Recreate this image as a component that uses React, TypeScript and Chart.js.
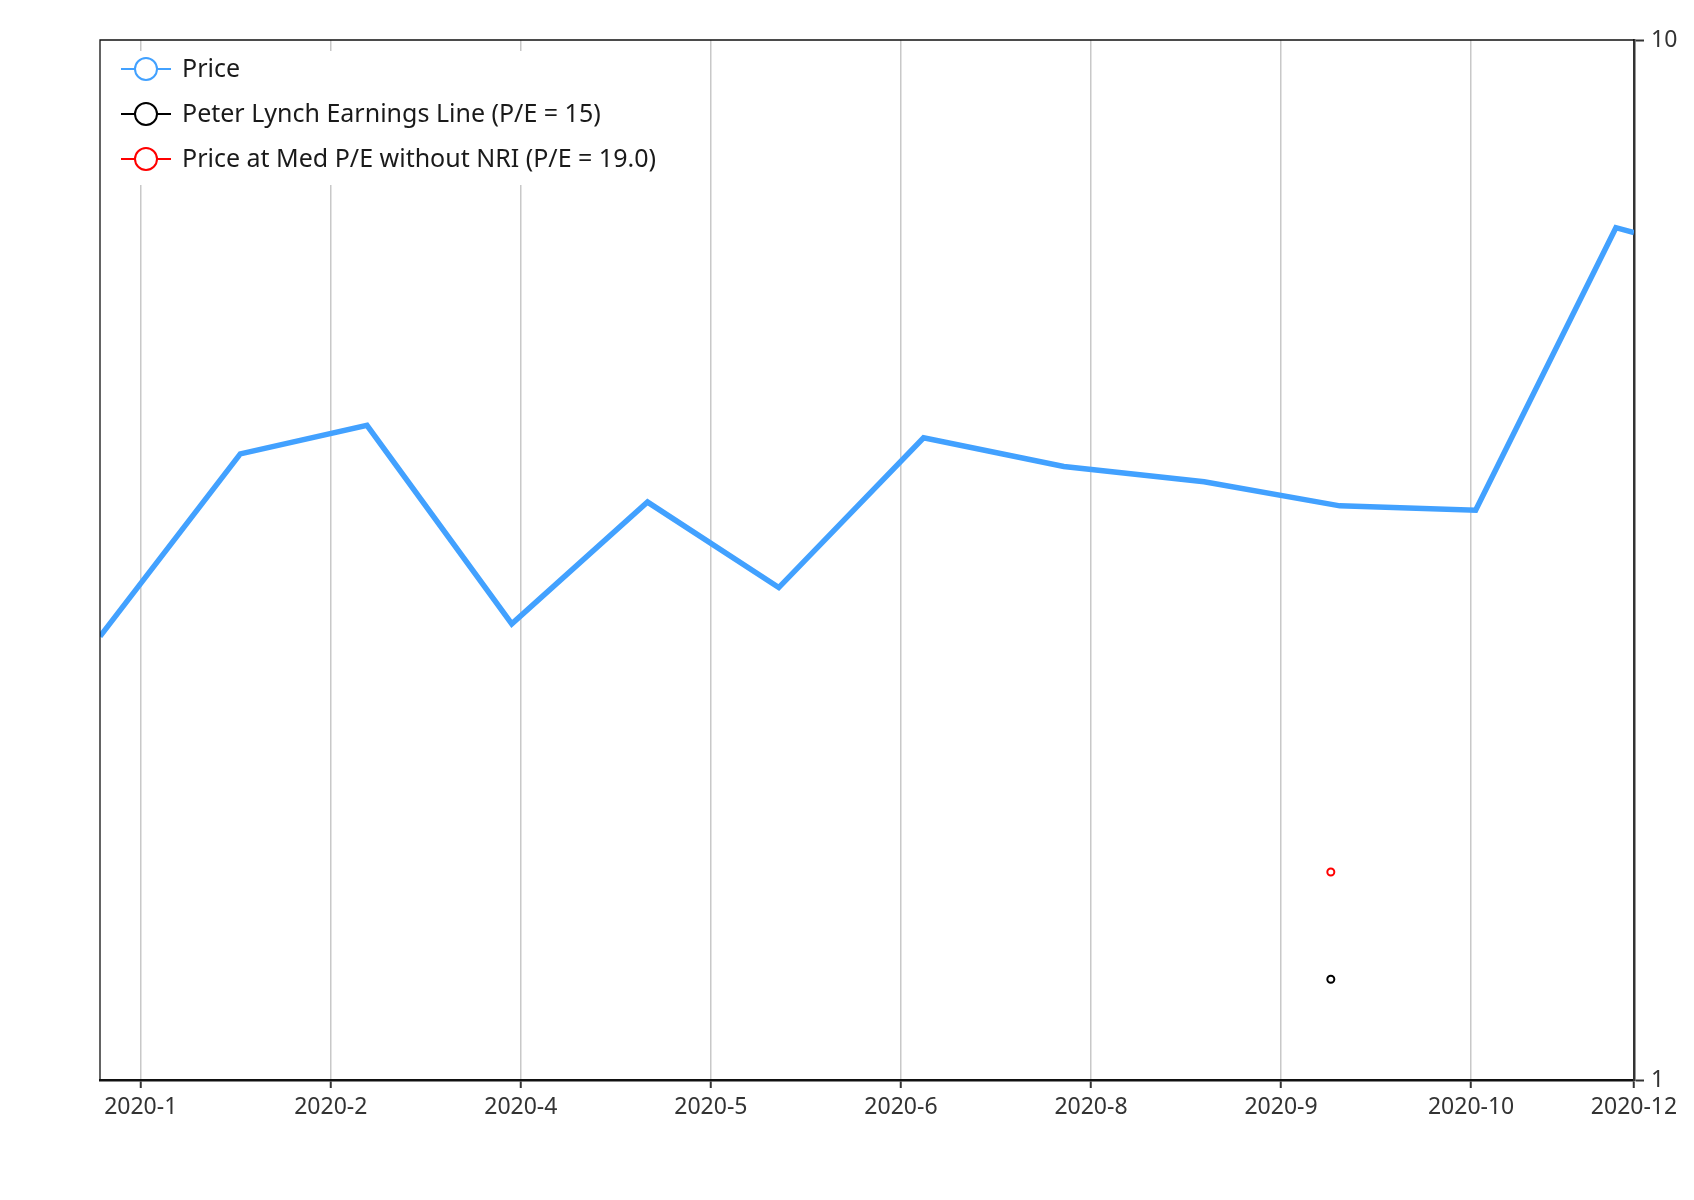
import { useEffect, useRef } from "react"
import { Chart, registerables, type ChartConfiguration } from "chart.js"

Chart.register(...registerables)

const priceDates = [
  "2019-12-31", "2020-01-31", "2020-02-28", "2020-03-31", "2020-04-30", "2020-05-29", "2020-06-30",
  "2020-07-31", "2020-08-31", "2020-09-30", "2020-10-30", "2020-11-30", "2020-12-04",
]
const priceValues = [2.67, 4.0, 4.26, 2.745, 3.595, 2.975, 4.145, 3.89, 3.76, 3.565, 3.53, 6.6, 6.53]

const valuationDates = ["2020-09-28"]
const lynchValues = [1.25]
const medPeValues = [1.585]

const tickDates = [
  "2020-01-09", "2020-02-20", "2020-04-02", "2020-05-14", "2020-06-25",
  "2020-08-06", "2020-09-17", "2020-10-29", "2020-12-04",
]
const tickLabels = ["2020-1", "2020-2", "2020-4", "2020-5", "2020-6", "2020-8", "2020-9", "2020-10", "2020-12"]
const yTicks = [1, 10]

const seriesLabels = ["Price", "Peter Lynch Earnings Line (P/E = 15)", "Price at Med P/E without NRI (P/E = 19.0)"]
const seriesColors = ["#42a1ff", "#000000", "#ff0000"]

const FONT = "'Noto Sans', 'Open Sans', sans-serif"

// days since the first price date, used as the linear x value
const dayOf = (s: string) => (Date.parse(s) - Date.parse(priceDates[0])) / 864e5

// legend drawn inside the plot, on a white box over the grid
const insideLegend = {
  id: "insideLegend",
  afterDraw(chart: Chart) {
    const { ctx, chartArea } = chart
    const left = chartArea.left
    const top = chartArea.top
    ctx.save()
    ctx.fillStyle = "#ffffff"
    ctx.fillRect(left + 8, top + 11, 590, 134)
    chart.data.datasets.forEach((ds, i) => {
      const cy = top + 29 + i * 45
      const color = ds.borderColor as string
      ctx.strokeStyle = color
      ctx.lineWidth = 2
      ctx.beginPath()
      ctx.moveTo(left + 21, cy)
      ctx.lineTo(left + 71, cy)
      ctx.stroke()
      ctx.beginPath()
      ctx.arc(left + 46, cy, 11, 0, Math.PI * 2)
      ctx.fillStyle = "#ffffff"
      ctx.fill()
      ctx.stroke()
      ctx.fillStyle = "#1a1a1a"
      ctx.font = `25px ${FONT}`
      ctx.textBaseline = "middle"
      ctx.fillText(ds.label as string, left + 82, cy + 1)
    })
    ctx.restore()
  },
}

// thin top and left frame lines
const frame = {
  id: "frame",
  afterDatasetsDraw(chart: Chart) {
    const { ctx, chartArea } = chart
    ctx.save()
    ctx.strokeStyle = "#111111"
    ctx.lineWidth = 1.3
    ctx.beginPath()
    ctx.moveTo(chartArea.left, chartArea.bottom)
    ctx.lineTo(chartArea.left, chartArea.top)
    ctx.lineTo(chartArea.right, chartArea.top)
    ctx.stroke()
    ctx.restore()
  },
}

export default function App() {
  const chartRef = useRef<HTMLCanvasElement>(null)

  useEffect(() => {
    if (!chartRef.current) return
    const ctx = chartRef.current.getContext("2d")
    if (!ctx) return

    Chart.defaults.font.family = FONT

    const config: ChartConfiguration<"line"> = {
      type: "line",
      data: {
        datasets: [
          {
            label: seriesLabels[0],
            data: priceDates.map((d, i) => ({ x: dayOf(d), y: priceValues[i] })),
            borderColor: seriesColors[0],
            backgroundColor: seriesColors[0],
            borderWidth: 5.5,
            pointRadius: 0,
            tension: 0,
          },
          {
            label: seriesLabels[1],
            data: valuationDates.map((d, i) => ({ x: dayOf(d), y: lynchValues[i] })),
            borderColor: seriesColors[1],
            backgroundColor: "#ffffff",
            showLine: false,
            pointRadius: 3.5,
            pointBorderWidth: 2,
          },
          {
            label: seriesLabels[2],
            data: valuationDates.map((d, i) => ({ x: dayOf(d), y: medPeValues[i] })),
            borderColor: seriesColors[2],
            backgroundColor: "#ffffff",
            showLine: false,
            pointRadius: 3.5,
            pointBorderWidth: 2,
          },
        ],
      },
      options: {
        animation: false,
        responsive: true,
        maintainAspectRatio: false,
        layout: { padding: { left: 92, top: 32, right: 0, bottom: 0 } },
        plugins: {
          legend: { display: false },
          tooltip: { enabled: false },
        },
        scales: {
          x: {
            type: "linear",
            min: dayOf(priceDates[0]),
            max: dayOf(priceDates[priceDates.length - 1]),
            afterBuildTicks: (scale) => {
              scale.ticks = tickDates.map((d) => ({ value: dayOf(d) }))
            },
            afterFit: (scale) => {
              scale.height = 78
            },
            ticks: {
              autoSkip: false,
              maxRotation: 0,
              padding: 6,
              color: "#333333",
              font: { size: 23 },
              callback: (_v, i) => tickLabels[i],
            },
            grid: {
              color: "#c8c8c8",
              lineWidth: 1.5,
              tickColor: "#333333",
              tickWidth: 2,
              tickLength: 8,
            },
            border: { color: "#111111", width: 2.5 },
          },
          y: {
            type: "logarithmic",
            position: "right",
            min: 1,
            max: 10,
            afterBuildTicks: (scale) => {
              scale.ticks = yTicks.map((v) => ({ value: v }))
            },
            afterFit: (scale) => {
              scale.width = 52
            },
            ticks: {
              padding: 7,
              color: "#333333",
              font: { size: 23 },
              callback: (v) => String(v),
            },
            grid: {
              drawOnChartArea: false,
              tickColor: "#333333",
              tickWidth: 2,
              tickLength: 10,
            },
            border: { color: "#333333", width: 2.5 },
          },
        },
      },
      plugins: [frame, insideLegend],
    }

    const chart = new Chart(ctx, config)
    return () => chart.destroy()
  }, [])

  return (
    <div style={{ position: "relative", width: 1678, height: 1150 }}>
      <canvas ref={chartRef} />
    </div>
  )
}
